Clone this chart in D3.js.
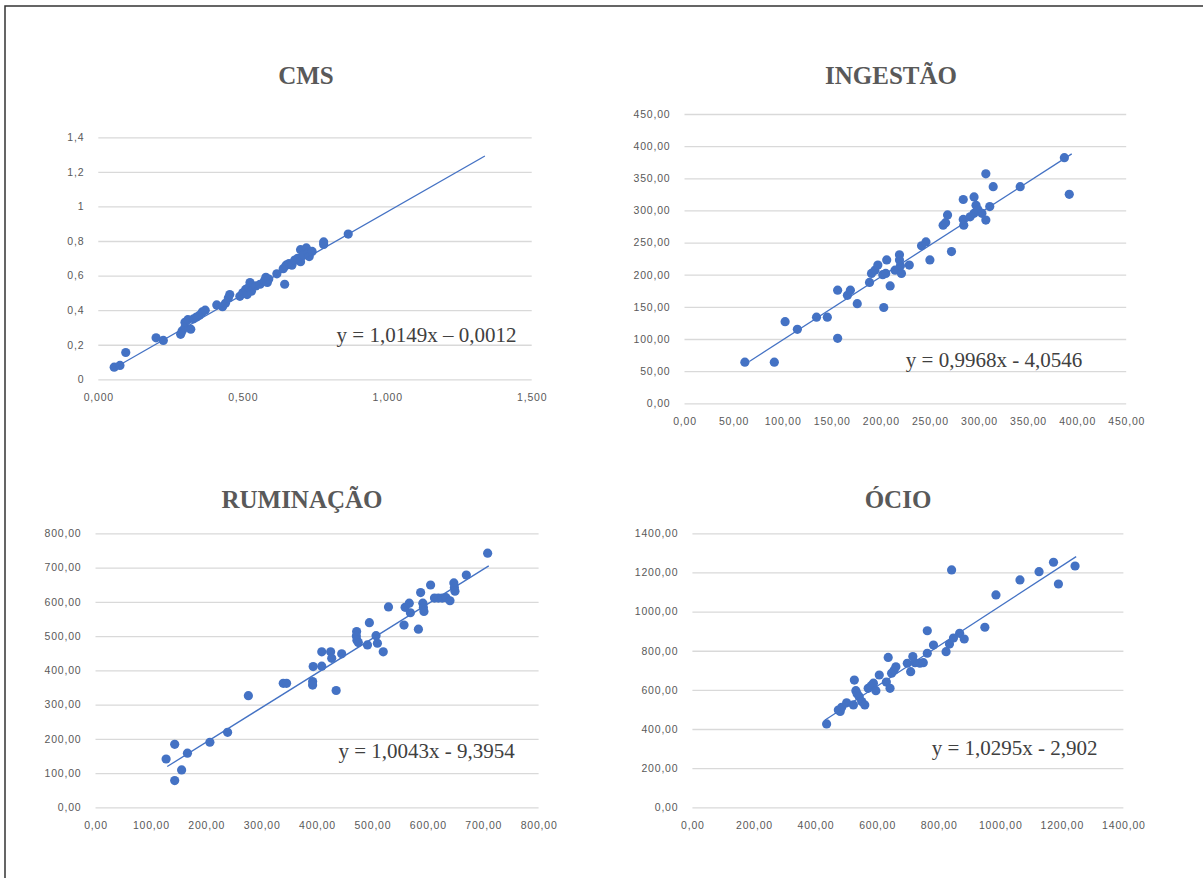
<!DOCTYPE html>
<html>
<head>
<meta charset="utf-8">
<script src="https://cdn.jsdelivr.net/npm/d3@7"></script>
<style>
  body { margin: 0; background: #fff; }
  svg { display: block; }
</style>
</head>
<body>
<script>
// Titles and trendline equations
let titles = ['CMS', 'INGESTÃO', 'RUMINAÇÃO', 'ÓCIO'];
let equations = ['y = 1,0149x – 0,0012', 'y = 0,9968x - 4,0546', 'y = 1,0043x - 9,3954', 'y = 1,0295x - 2,902'];

// Tick labels
let cmsXTicks = ['0,000', '0,500', '1,000', '1,500'];
let cmsYTicks = ['0', '0,2', '0,4', '0,6', '0,8', '1', '1,2', '1,4'];
let ingXTicks = ['0,00', '50,00', '100,00', '150,00', '200,00', '250,00', '300,00', '350,00', '400,00', '450,00'];
let ingYTicks = ['0,00', '50,00', '100,00', '150,00', '200,00', '250,00', '300,00', '350,00', '400,00', '450,00'];
let rumXTicks = ['0,00', '100,00', '200,00', '300,00', '400,00', '500,00', '600,00', '700,00', '800,00'];
let rumYTicks = ['0,00', '100,00', '200,00', '300,00', '400,00', '500,00', '600,00', '700,00', '800,00'];
let ocioXTicks = ['0,00', '200,00', '400,00', '600,00', '800,00', '1000,00', '1200,00', '1400,00'];
let ocioYTicks = ['0,00', '200,00', '400,00', '600,00', '800,00', '1000,00', '1200,00', '1400,00'];

// Tick values (same order as the labels)
let cmsXVals = [0, 0.5, 1, 1.5];
let cmsYVals = [0, 0.2, 0.4, 0.6, 0.8, 1, 1.2, 1.4];
let ingVals = [0, 50, 100, 150, 200, 250, 300, 350, 400, 450];
let rumVals = [0, 100, 200, 300, 400, 500, 600, 700, 800];
let ocioVals = [0, 200, 400, 600, 800, 1000, 1200, 1400];

// Observed vs predicted points [x, y]
let cmsPoints = [
  [0.055, 0.07], [0.075, 0.08], [0.095, 0.155], [0.20, 0.24], [0.225, 0.225], [0.285, 0.26],
  [0.29, 0.28], [0.30, 0.30], [0.30, 0.33], [0.31, 0.345], [0.32, 0.29], [0.33, 0.35],
  [0.34, 0.36], [0.35, 0.37], [0.36, 0.39], [0.37, 0.40], [0.41, 0.43], [0.43, 0.42],
  [0.44, 0.44], [0.45, 0.47], [0.455, 0.49], [0.49, 0.48], [0.50, 0.50], [0.51, 0.52],
  [0.515, 0.49], [0.52, 0.53], [0.525, 0.56], [0.53, 0.51], [0.545, 0.54], [0.56, 0.55],
  [0.575, 0.57], [0.58, 0.59], [0.585, 0.56], [0.59, 0.58], [0.618, 0.61], [0.645, 0.55],
  [0.64, 0.64], [0.65, 0.66], [0.66, 0.67], [0.67, 0.66], [0.68, 0.69], [0.69, 0.70],
  [0.70, 0.68], [0.70, 0.75], [0.71, 0.72], [0.72, 0.76], [0.725, 0.73], [0.73, 0.71],
  [0.74, 0.74], [0.78, 0.78], [0.78, 0.795], [0.865, 0.84]
];
let ingPoints = [
  [61.5, 64], [91.5, 64], [102.5, 127], [115, 115], [134.5, 134], [145.5, 134], [156, 101],
  [156, 176], [166, 168], [169, 176], [176, 155], [188.5, 188], [190.5, 202], [194, 207],
  [197, 215], [202, 200], [205, 202], [206, 223], [203, 149], [209.5, 182.5], [214.5, 207],
  [219, 231], [219, 223], [220, 214], [221, 202], [229, 215], [241.5, 245], [246, 251],
  [250, 223], [263.5, 277], [266, 281], [268, 293], [272, 236], [284, 317], [284, 286],
  [284.5, 277], [291, 290], [295, 321], [295, 295.5], [297, 308], [299, 301], [303, 295.5],
  [307, 285], [307, 357], [311, 306], [314.5, 337], [342, 337], [387, 382], [392, 325]
];
let rumPoints = [
  [127.5, 141], [143, 184], [143, 78], [155.5, 109], [166, 158], [206.5, 190], [238.5, 219],
  [276, 326], [339, 362], [345, 362], [392, 367], [392, 357], [393, 411], [408.5, 412],
  [408.5, 454], [424.5, 454], [426.5, 435], [434.5, 341], [444.5, 448], [471.5, 513],
  [471, 500], [472, 488], [474.5, 481], [491, 474], [494.5, 539], [506.5, 501], [509, 479],
  [519.5, 454], [529, 585], [557, 532], [559, 584], [566.5, 596], [568.5, 568], [583, 520],
  [587, 627], [591, 596], [592, 583], [593, 572], [605, 649], [612, 611], [619, 611],
  [626, 611], [633, 612], [640, 603], [647, 655], [648, 642], [649, 631], [669.5, 678], [708, 742]
];
let ocioPoints = [
  [436, 426], [474, 497], [480, 490], [485, 511], [501, 534], [523, 523], [526, 650],
  [531, 596], [535, 580], [542, 565], [550, 540], [560, 523], [571, 608], [580, 620],
  [588, 634], [596, 596], [607, 676], [630, 640], [636, 766], [642, 608], [647, 685],
  [655, 700], [661, 718], [698, 736], [709, 693], [716, 770], [723, 739], [739, 736],
  [750, 739], [763, 787], [763, 902], [783, 829], [824, 795], [835, 834], [842, 1213],
  [848, 865], [868, 889], [883, 860], [950, 920], [986, 1085], [1064, 1162], [1126, 1204],
  [1173, 1252], [1189, 1141], [1243, 1233]
];

// Trendline endpoints as drawn
let cmsTrend = [[0.06, 0.07], [1.338, 1.292]];
let ingTrend = [[66, 65], [394.5, 388]];
let rumTrend = [[129.5, 119], [710, 705]];
let ocioTrend = [[431, 446], [1246.5, 1281]];

let blue = '#4472c4';
let grey = '#595959';

let svg = d3.select('body').append('svg')
  .attr('width', 1203)
  .attr('height', 878);

// frame of the pasted figure
svg.append('path')
  .attr('d', 'M5,900 L5,6 L1210,6')
  .attr('fill', 'none')
  .attr('stroke', '#333')
  .attr('stroke-width', 1.5);

let panels = [
  { title: titles[0], eq: equations[0], pts: cmsPoints, trend: cmsTrend,
    xVals: cmsXVals, xLabels: cmsXTicks, yVals: cmsYVals, yLabels: cmsYTicks,
    left: 98.3, right: 531.7, top: 137.3, bottom: 379.3,
    titleX: 306, titleY: 84, eqX: 426.5, eqY: 342 },
  { title: titles[1], eq: equations[1], pts: ingPoints, trend: ingTrend,
    xVals: ingVals, xLabels: ingXTicks, yVals: ingVals, yLabels: ingYTicks,
    left: 684.5, right: 1126.2, top: 114, bottom: 403.3,
    titleX: 891, titleY: 84, eqX: 994, eqY: 367 },
  { title: titles[2], eq: equations[2], pts: rumPoints, trend: rumTrend,
    xVals: rumVals, xLabels: rumXTicks, yVals: rumVals, yLabels: rumYTicks,
    left: 95.5, right: 538.6, top: 533.3, bottom: 807.3,
    titleX: 302, titleY: 508, eqX: 426.7, eqY: 758 },
  { title: titles[3], eq: equations[3], pts: ocioPoints, trend: ocioTrend,
    xVals: ocioVals, xLabels: ocioXTicks, yVals: ocioVals, yLabels: ocioYTicks,
    left: 692.4, right: 1123.4, top: 533.3, bottom: 807.3,
    titleX: 898, titleY: 508, eqX: 1014.7, eqY: 755 }
];

panels.forEach(p => {
  let x = d3.scaleLinear()
    .domain([p.xVals[0], p.xVals[p.xVals.length - 1]])
    .range([p.left, p.right]);
  let y = d3.scaleLinear()
    .domain([p.yVals[0], p.yVals[p.yVals.length - 1]])
    .range([p.bottom, p.top]);

  let g = svg.append('g');

  // horizontal gridlines + y labels
  let yAxis = d3.axisLeft(y)
    .tickValues(p.yVals)
    .tickSize(-(p.right - p.left))
    .tickPadding(14)
    .tickFormat((d, i) => p.yLabels[i]);
  let ya = g.append('g')
    .attr('transform', `translate(${p.left},0)`)
    .call(yAxis);
  ya.select('.domain').remove();
  ya.selectAll('line').attr('stroke', '#d9d9d9').attr('stroke-width', 1.3);
  ya.selectAll('text')
    .attr('fill', grey)
    .attr('font-family', 'Liberation Sans, Arial, sans-serif')
    .attr('font-size', '10.5px')
    .attr('letter-spacing', '0.8px');

  // x labels
  let xAxis = d3.axisBottom(x)
    .tickValues(p.xVals)
    .tickSize(0)
    .tickPadding(14)
    .tickFormat((d, i) => p.xLabels[i]);
  let xa = g.append('g')
    .attr('transform', `translate(0,${p.bottom})`)
    .call(xAxis);
  xa.select('.domain').remove();
  xa.selectAll('text')
    .attr('fill', grey)
    .attr('font-family', 'Liberation Sans, Arial, sans-serif')
    .attr('font-size', '10.5px')
    .attr('letter-spacing', '0.8px');

  // points
  g.selectAll('circle')
    .data(p.pts)
    .enter()
    .append('circle')
    .attr('cx', d => x(d[0]))
    .attr('cy', d => y(d[1]))
    .attr('r', 4.6)
    .attr('fill', blue);

  // linear trendline
  g.append('line')
    .attr('x1', x(p.trend[0][0]))
    .attr('y1', y(p.trend[0][1]))
    .attr('x2', x(p.trend[1][0]))
    .attr('y2', y(p.trend[1][1]))
    .attr('stroke', blue)
    .attr('stroke-width', 1.3);

  // title
  g.append('text')
    .text(p.title)
    .attr('x', p.titleX)
    .attr('y', p.titleY)
    .attr('text-anchor', 'middle')
    .attr('font-family', 'Liberation Serif, Times New Roman, serif')
    .attr('font-weight', 'bold')
    .attr('font-size', '25px')
    .attr('fill', grey);

  // equation
  g.append('text')
    .text(p.eq)
    .attr('x', p.eqX)
    .attr('y', p.eqY)
    .attr('text-anchor', 'middle')
    .attr('font-family', 'Liberation Serif, Times New Roman, serif')
    .attr('font-size', '21px')
    .attr('fill', '#404040');
});
</script>
</body>
</html>
